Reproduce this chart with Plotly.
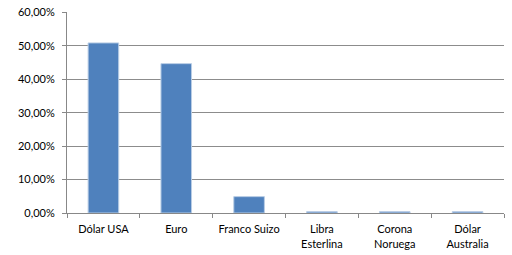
import plotly.graph_objects as go

categories = ["Dólar USA", "Euro", "Franco Suizo", "Libra<br>Esterlina", "Corona<br>Noruega", "Dólar<br>Australia"]
values = [50.9, 44.7, 4.9, 0.4, 0.4, 0.4]
y_ticks = [0, 10, 20, 30, 40, 50, 60]
y_tick_labels = ["0,00%", "10,00%", "20,00%", "30,00%", "40,00%", "50,00%", "60,00%"]

fig = go.Figure(go.Bar(
    x=categories, y=values,
    marker=dict(color="#4F81BD", line=dict(color="#B9CDE5", width=1)),
    width=0.42,
))
fig.update_layout(
    width=512, height=255,
    margin=dict(l=67, r=8, t=12, b=42),
    paper_bgcolor="white", plot_bgcolor="white",
    showlegend=False,
    font=dict(family="Lato, Open Sans, sans-serif", size=11, color="#000000"),
)
fig.update_xaxes(
    tickson="boundaries", ticks="outside", ticklen=4, tickcolor="#888888",
    showline=True, linecolor="#888888", linewidth=1,
    showgrid=False, automargin=False, ticklabelstandoff=6,
    ticklabeloverflow="allow",
)
fig.update_yaxes(
    range=[0, 60.15], tickvals=y_ticks, ticktext=y_tick_labels,
    ticks="outside", ticklen=4, tickcolor="#888888",
    showline=True, linecolor="#888888", linewidth=1,
    showgrid=True, gridcolor="#8c8c8c", gridwidth=1,
    zeroline=False, automargin=False, ticklabelstandoff=5,
    ticklabeloverflow="allow",
)
fig.write_html("out.html", config={"displayModeBar": False},
               post_script="document.body.style.margin='0';")
